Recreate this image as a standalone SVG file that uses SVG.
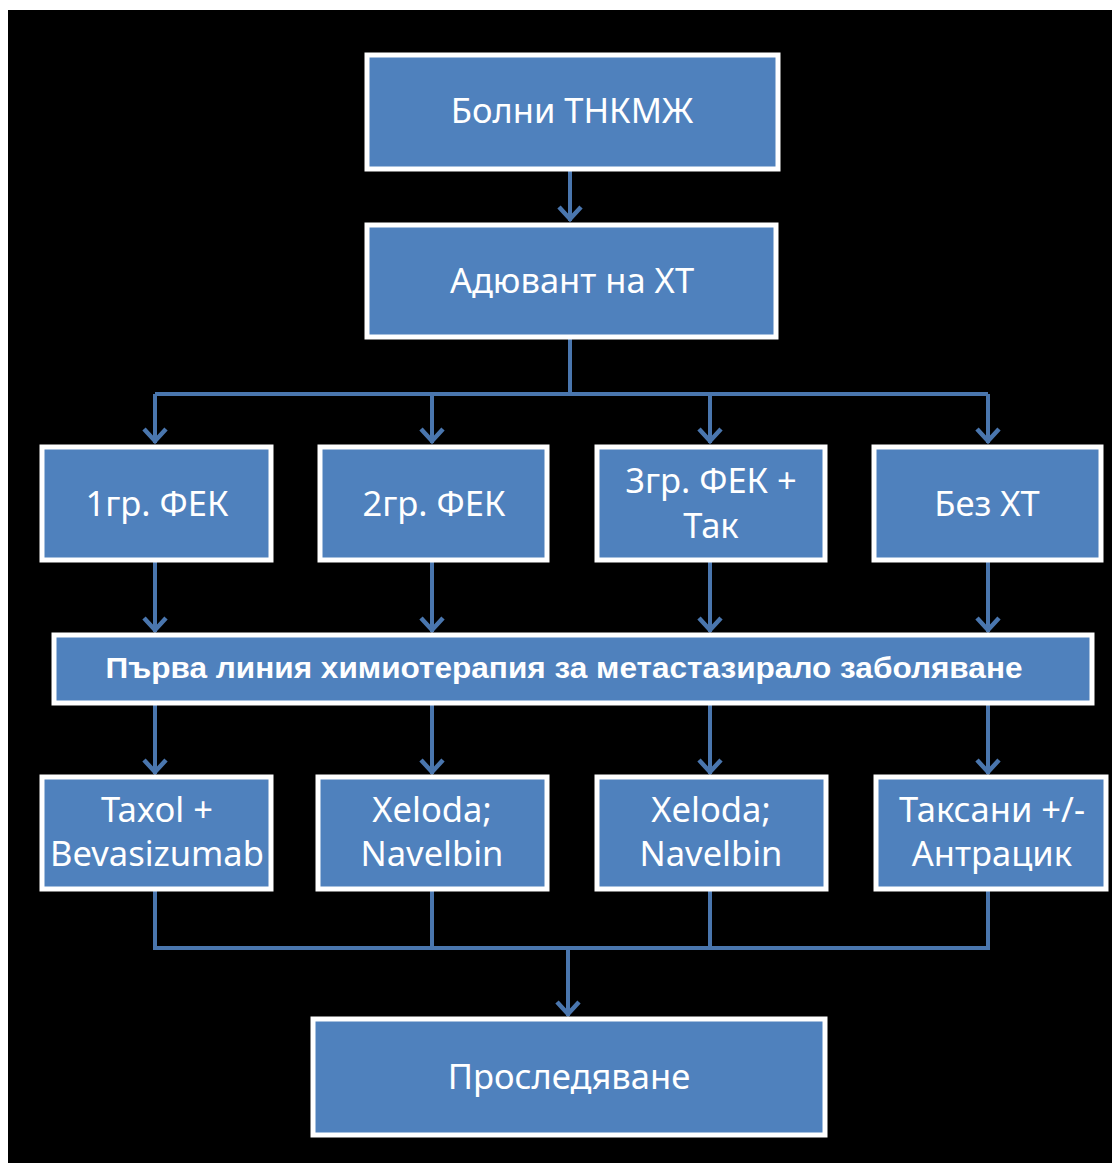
<svg xmlns="http://www.w3.org/2000/svg" width="1112" height="1163" viewBox="0 0 1112 1163">
<defs>
<marker id="arr" markerUnits="userSpaceOnUse" viewBox="-16 -14 20 28" refX="0" refY="0" markerWidth="20" markerHeight="28" orient="auto">
<path d="M-14,-11 L-2,0 L-14,11" fill="none" stroke="#4a76ae" stroke-width="4.5" stroke-linejoin="miter"/>
</marker>
</defs>
<style>
.box{fill:#4f81bd;stroke:#ffffff;stroke-width:5}
.t{font-family:"Noto Sans","Open Sans",sans-serif;font-size:34.5px;fill:#ffffff;text-anchor:middle}
.tb{font-family:"Liberation Sans",Arial,sans-serif;font-weight:bold;font-size:30px;fill:#ffffff;text-anchor:middle}
.c{fill:none;stroke:#4a76ae;stroke-width:4}
</style>
<rect x="0" y="0" width="1112" height="1163" fill="#ffffff"/>
<rect x="8" y="10" width="1104" height="1153" fill="#000000"/>
<g id="connectors">
<path class="c" d="M570,171 V221" marker-end="url(#arr)"/>
<path class="c" d="M570,339 V394 M155,394 H988"/>
<path class="c" d="M155,394 V443" marker-end="url(#arr)"/>
<path class="c" d="M432,394 V443" marker-end="url(#arr)"/>
<path class="c" d="M710,394 V443" marker-end="url(#arr)"/>
<path class="c" d="M988,394 V443" marker-end="url(#arr)"/>
<path class="c" d="M155,562 V632" marker-end="url(#arr)"/>
<path class="c" d="M432,562 V632" marker-end="url(#arr)"/>
<path class="c" d="M710,562 V632" marker-end="url(#arr)"/>
<path class="c" d="M988,562 V632" marker-end="url(#arr)"/>
<path class="c" d="M155,705 V774" marker-end="url(#arr)"/>
<path class="c" d="M432,705 V774" marker-end="url(#arr)"/>
<path class="c" d="M710,705 V774" marker-end="url(#arr)"/>
<path class="c" d="M988,705 V774" marker-end="url(#arr)"/>
<path class="c" d="M155,891 V948 H988 V891 M432,891 V948 M710,891 V948"/>
<path class="c" d="M568,948 V1016" marker-end="url(#arr)"/>
</g>
<g id="n1"><rect class="box" x="367" y="55" width="411" height="114"/><text class="t" x="572" y="123">Болни ТНКМЖ</text></g>
<g id="n2"><rect class="box" x="367" y="225" width="409" height="112"/><text class="t" x="572" y="293">Адювант на ХТ</text></g>
<g id="n3"><rect class="box" x="42" y="447" width="229" height="113"/><text class="t" x="157" y="516">1гр. ФЕК</text></g>
<g id="n4"><rect class="box" x="320" y="447" width="227" height="113"/><text class="t" x="434" y="516">2гр. ФЕК</text></g>
<g id="n5"><rect class="box" x="597" y="447" width="228" height="113"/><text class="t" x="711" y="493">3гр. ФЕК +</text><text class="t" x="711" y="538">Так</text></g>
<g id="n6"><rect class="box" x="874" y="447" width="227" height="113"/><text class="t" x="987" y="516">Без ХТ</text></g>
<g id="n7"><rect class="box" x="54" y="635" width="1038" height="68"/><text class="tb" x="564" y="678" textLength="917" lengthAdjust="spacingAndGlyphs">Първа линия химиотерапия за метастазирало заболяване</text></g>
<g id="n8"><rect class="box" x="42" y="777" width="229" height="112"/><text class="t" x="157" y="822">Taxol +</text><text class="t" x="157" y="866">Bevasizumab</text></g>
<g id="n9"><rect class="box" x="318" y="777" width="229" height="112"/><text class="t" x="432" y="822">Xeloda;</text><text class="t" x="432" y="866">Navelbin</text></g>
<g id="n10"><rect class="box" x="597" y="777" width="229" height="112"/><text class="t" x="711" y="822">Xeloda;</text><text class="t" x="711" y="866">Navelbin</text></g>
<g id="n11"><rect class="box" x="876" y="777" width="230" height="112"/><text class="t" x="992" y="822">Таксани +/-</text><text class="t" x="992" y="866">Антрацик</text></g>
<g id="n12"><rect class="box" x="313" y="1019" width="512" height="116"/><text class="t" x="569" y="1089">Проследяване</text></g>
</svg>
